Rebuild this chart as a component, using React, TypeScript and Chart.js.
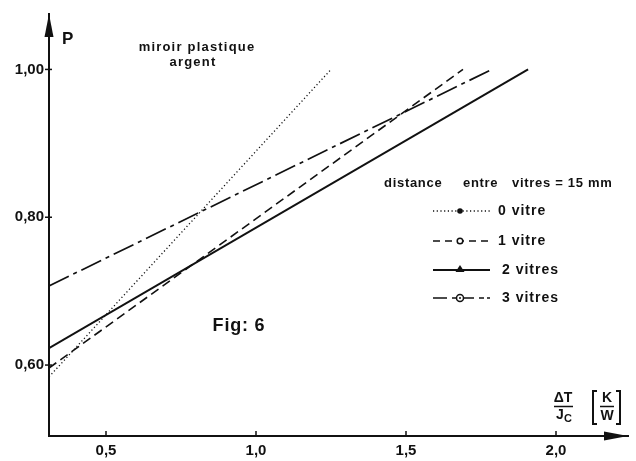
import React, { useEffect, useRef } from "react";
import { Chart, registerables } from "chart.js";

Chart.register(...registerables);

// ---- data ----
const seriesNames = ["0 vitre", "1 vitre", "2 vitres", "3 vitres"];
const xVitre0 = [0.31, 1.25];
const pVitre0 = [0.584, 1.0];
const xVitre1 = [0.31, 1.69];
const pVitre1 = [0.596, 1.0];
const xVitre2 = [0.31, 1.907];
const pVitre2 = [0.623, 1.0];
const xVitre3 = [0.31, 1.786];
const pVitre3 = [0.707, 1.0];

const xTicks = [0.5, 1.0, 1.5, 2.0];
const yTicks = [0.6, 0.8, 1.0];
const xRange = [0.31, 2.24];
const yRange = [0.504, 1.075];

const INK = "#111";
const BOLD = (s: number) => `bold ${s}px "Liberation Sans", Arial, sans-serif`;

const dashes: number[][] = [[1.2, 2.5], [9, 5], [], [22, 5, 4, 5]];
const widths = [1.3, 1.6, 2, 1.7];

const pts = (xs: number[], ys: number[]) => xs.map((x, i) => ({ x, y: ys[i] }));

const fmtX = (v: number) => v.toFixed(1).replace(".", ",");
const fmtY = (v: number) => v.toFixed(2).replace(".", ",");

const overlay = {
  id: "overlay",
  afterDraw(chart: any) {
    const ctx = chart.ctx;
    const a = chart.chartArea;
    const xs = chart.scales.x;
    const ys = chart.scales.y;
    ctx.save();
    ctx.fillStyle = INK;
    ctx.strokeStyle = INK;

    // axis arrows
    ctx.beginPath();
    ctx.moveTo(a.left, a.top);
    ctx.lineTo(a.left - 4.5, a.top + 23);
    ctx.lineTo(a.left + 4.5, a.top + 23);
    ctx.closePath();
    ctx.fill();
    ctx.beginPath();
    ctx.moveTo(a.right, a.bottom);
    ctx.lineTo(a.right - 24, a.bottom - 4.5);
    ctx.lineTo(a.right - 24, a.bottom + 4.5);
    ctx.closePath();
    ctx.fill();

    // tick marks
    ctx.lineWidth = 1.5;
    xTicks.forEach((v) => {
      const px = xs.getPixelForValue(v);
      ctx.beginPath();
      ctx.moveTo(px, a.bottom);
      ctx.lineTo(px, a.bottom - 5);
      ctx.stroke();
    });
    yTicks.forEach((v) => {
      const py = ys.getPixelForValue(v);
      ctx.beginPath();
      ctx.moveTo(a.left - 4, py);
      ctx.lineTo(a.left + 3, py);
      ctx.stroke();
    });

    // axis titles
    ctx.textBaseline = "middle";
    ctx.textAlign = "left";
    ctx.font = BOLD(17);
    ctx.fillText("P", 62, 39);

    // x unit label: ΔT / Jc [K / W]
    ctx.textAlign = "center";
    ctx.font = BOLD(14);
    ctx.fillText("ΔT", 563, 398);
    ctx.lineWidth = 1.5;
    ctx.beginPath();
    ctx.moveTo(554, 406.5);
    ctx.lineTo(573, 406.5);
    ctx.stroke();
    ctx.fillText("J", 560, 415);
    ctx.font = BOLD(11);
    ctx.fillText("C", 568, 419);
    ctx.font = BOLD(14);
    ctx.fillText("K", 607, 398);
    ctx.fillText("W", 607, 416);
    ctx.beginPath();
    ctx.moveTo(600, 406.5);
    ctx.lineTo(614, 406.5);
    ctx.stroke();
    ctx.lineWidth = 2;
    ctx.beginPath();
    ctx.moveTo(597, 391);
    ctx.lineTo(593, 391);
    ctx.lineTo(593, 424);
    ctx.lineTo(597, 424);
    ctx.moveTo(616, 391);
    ctx.lineTo(620, 391);
    ctx.lineTo(620, 424);
    ctx.lineTo(616, 424);
    ctx.stroke();

    // annotations
    ctx.font = BOLD(13);
    (ctx as any).letterSpacing = "1.2px";
    ctx.fillText("miroir plastique", 197, 47);
    ctx.fillText("argent", 193, 62);
    (ctx as any).letterSpacing = "0.8px";
    ctx.font = BOLD(18);
    ctx.fillText("Fig: 6", 239, 326);

    // legend
    ctx.font = BOLD(13);
    (ctx as any).letterSpacing = "0.7px";
    ctx.textAlign = "left";
    ctx.fillText("distance", 384, 183);
    ctx.fillText("entre", 463, 183);
    ctx.fillText("vitres = 15 mm", 512, 183);
    ctx.font = BOLD(14);
    (ctx as any).letterSpacing = "1px";
    const rowY = [211, 241, 270, 298];
    const x0 = 433;
    const x1 = 490;
    const mx = 460;
    seriesNames.forEach((name, i) => {
      const y = rowY[i];
      ctx.lineWidth = widths[i];
      ctx.setLineDash(i === 1 ? [7, 5] : i === 3 ? [14, 5, 5, 3] : dashes[i]);
      ctx.beginPath();
      ctx.moveTo(x0, y);
      ctx.lineTo(x1, y);
      ctx.stroke();
      ctx.setLineDash([]);
      ctx.lineWidth = 1.5;
      if (i === 0) {
        ctx.beginPath();
        ctx.arc(mx, y, 2.8, 0, Math.PI * 2);
        ctx.fill();
      } else if (i === 1) {
        ctx.fillStyle = "#fff";
        ctx.beginPath();
        ctx.arc(mx, y, 2.8, 0, Math.PI * 2);
        ctx.fill();
        ctx.stroke();
        ctx.fillStyle = INK;
      } else if (i === 2) {
        ctx.beginPath();
        ctx.moveTo(mx, y - 5);
        ctx.lineTo(mx - 4.5, y + 2);
        ctx.lineTo(mx + 4.5, y + 2);
        ctx.closePath();
        ctx.fill();
      } else {
        ctx.fillStyle = "#fff";
        ctx.beginPath();
        ctx.arc(mx, y, 3.5, 0, Math.PI * 2);
        ctx.fill();
        ctx.stroke();
        ctx.fillStyle = INK;
        ctx.beginPath();
        ctx.arc(mx, y, 1, 0, Math.PI * 2);
        ctx.fill();
      }
      ctx.fillText(name, i >= 2 ? 502 : 498, y);
    });
    ctx.restore();
  },
};

export default function App() {
  const ref = useRef<HTMLCanvasElement | null>(null);
  useEffect(() => {
    if (!ref.current) return;
    const series = [
      pts(xVitre0, pVitre0),
      pts(xVitre1, pVitre1),
      pts(xVitre2, pVitre2),
      pts(xVitre3, pVitre3),
    ];
    const chart = new Chart(ref.current, {
      type: "line",
      data: {
        datasets: series.map((d, i) => ({
          label: seriesNames[i],
          data: d,
          borderColor: INK,
          borderWidth: widths[i],
          borderDash: dashes[i],
          pointRadius: 0,
          fill: false,
          tension: 0,
        })),
      },
      options: {
        animation: false,
        responsive: false,
        events: [],
        layout: { padding: { left: 0, top: 8, right: 8, bottom: 0 } },
        plugins: { legend: { display: false }, tooltip: { enabled: false } },
        scales: {
          x: {
            type: "linear",
            min: xRange[0],
            max: xRange[1],
            afterBuildTicks: (s: any) => {
              s.ticks = xTicks.map((v) => ({ value: v }));
            },
            afterFit: (s: any) => {
              s.height = 25;
            },
            grid: { display: false, drawTicks: false },
            border: { display: true, color: INK, width: 2 },
            ticks: {
              color: INK,
              padding: 6,
              maxRotation: 0,
              autoSkip: false,
              font: { family: '"Liberation Sans", Arial, sans-serif', size: 15, weight: "bold" },
              callback: (v: any) => fmtX(Number(v)),
            },
          },
          y: {
            type: "linear",
            min: yRange[0],
            max: yRange[1],
            afterBuildTicks: (s: any) => {
              s.ticks = yTicks.map((v) => ({ value: v }));
            },
            afterFit: (s: any) => {
              s.width = 49;
            },
            grid: { display: false, drawTicks: false },
            border: { display: true, color: INK, width: 2 },
            ticks: {
              color: INK,
              padding: 5,
              autoSkip: false,
              font: { family: '"Liberation Sans", Arial, sans-serif', size: 15, weight: "bold" },
              callback: (v: any) => fmtY(Number(v)),
            },
          },
        },
      },
      plugins: [overlay],
    } as any);
    return () => chart.destroy();
  }, []);
  return (
    <div style={{ position: "fixed", left: 0, top: 0, width: 636, height: 461, background: "#fff" }}>
      <canvas ref={ref} width={636} height={461} style={{ display: "block" }} />
    </div>
  );
}
